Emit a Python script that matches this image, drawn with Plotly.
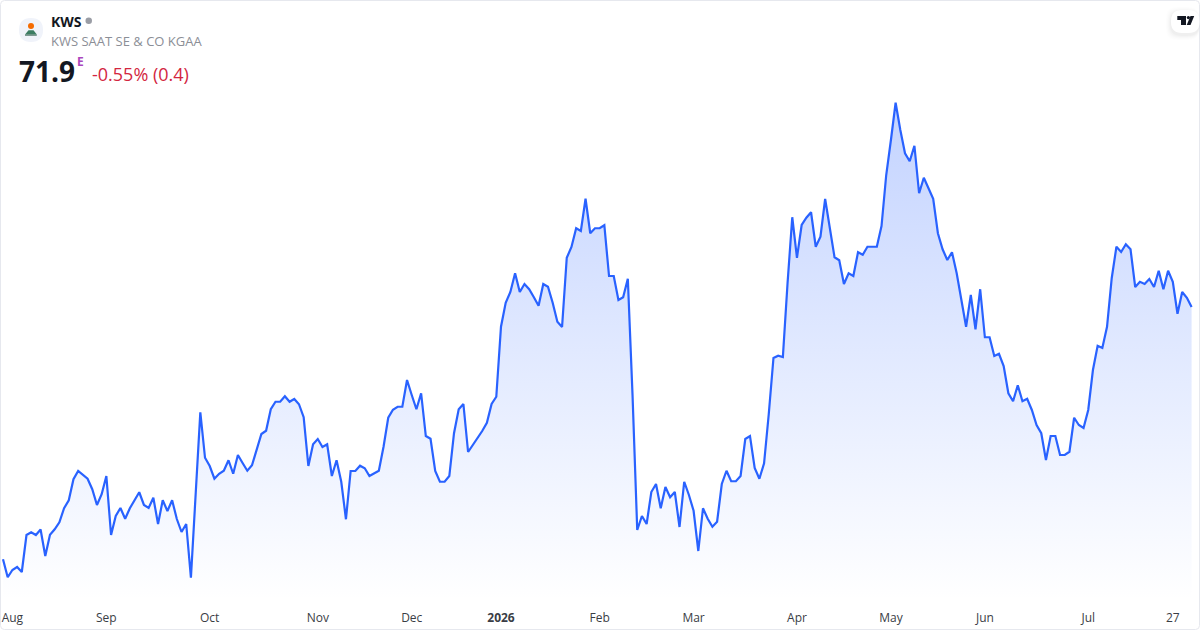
import plotly.graph_objects as go

# sesiones del último año, cierre diario
closes = [
    61.81, 61.09, 61.38, 61.50, 61.30, 62.78, 62.89, 62.78, 63.00, 61.94,
    62.79, 63.01, 63.29, 63.85, 64.17, 65.01, 65.34, 65.17, 65.03, 64.61,
    63.98, 64.41, 65.14, 62.78, 63.54, 63.86, 63.43, 63.85, 64.15, 64.49,
    63.98, 63.86, 64.27, 63.22, 64.17, 63.74, 64.17, 63.42, 62.90, 63.22,
    61.07, 64.38, 67.69, 65.87, 65.54, 65.03, 65.23, 65.35, 65.77, 65.23,
    65.98, 65.66, 65.35, 65.57, 66.18, 66.82, 66.95, 67.81, 68.11, 68.11,
    68.33, 68.11, 68.22, 68.01, 67.49, 65.54, 66.41, 66.62, 66.30, 66.41,
    65.14, 65.77, 64.91, 63.41, 65.34, 65.34, 65.55, 65.45, 65.14, 65.25,
    65.35, 66.31, 67.47, 67.79, 67.91, 67.91, 68.98, 68.38, 67.81, 68.45,
    66.74, 66.63, 65.34, 64.91, 64.91, 65.14, 66.85, 67.81, 68.02, 66.10,
    66.38, 66.62, 66.94, 67.27, 68.02, 68.31, 71.11, 72.07, 72.50, 73.25,
    72.50, 72.82, 72.61, 72.29, 71.95, 72.82, 72.71, 72.07, 71.31, 71.10,
    73.87, 74.30, 75.05, 74.94, 76.23, 74.85, 75.05, 75.05, 75.17, 73.14,
    73.14, 72.18, 72.29, 73.03, 68.38, 62.98, 63.54, 63.22, 64.50, 64.82,
    63.85, 64.70, 64.29, 64.50, 63.10, 64.91, 64.38, 63.75, 62.14, 63.85,
    63.43, 63.11, 63.31, 64.82, 65.35, 64.93, 64.93, 65.14, 66.62, 66.74,
    65.46, 65.03, 65.65, 67.62, 69.86, 69.95, 69.90, 72.86, 75.49, 73.87,
    75.18, 75.47, 75.69, 74.31, 74.71, 76.22, 75.05, 73.89, 73.77, 72.82,
    73.25, 73.14, 74.09, 73.99, 74.31, 74.31, 74.31, 75.14, 77.18, 78.58,
    80.07, 78.98, 78.05, 77.73, 78.35, 76.45, 77.07, 76.65, 76.23, 74.85,
    74.21, 73.78, 74.09, 73.25, 72.18, 71.11, 72.38, 71.01, 72.61, 70.69,
    70.69, 69.94, 70.03, 69.54, 68.45, 68.13, 68.77, 68.13, 68.23, 67.78,
    67.18, 66.85, 65.78, 66.74, 66.74, 65.98, 65.98, 66.11, 67.47, 67.18,
    67.06, 67.78, 69.38, 70.35, 70.26, 71.11, 73.05, 74.31, 74.10, 74.41,
    74.21, 72.70, 72.91, 72.82, 73.02, 72.70, 73.35, 72.61, 73.35, 72.91,
    71.63, 72.50, 72.27, 71.90,
]
sessions = list(range(len(closes)))

tick_sessions = [2, 22, 44, 67, 87, 106, 127, 147, 169, 189, 209, 231, 249]
tick_labels = ["Aug", "Sep", "Oct", "Nov", "Dec", "<b>2026</b>", "Feb", "Mar",
               "Apr", "May", "Jun", "Jul", "27"]

W, H = 1200, 630
PLOT_H = 600
FONT = "Open Sans"


def fx(x):
    return x / W


def fy(y):
    return 1 - y / PLOT_H


def round_path(x0, y0, x1, y1, r):
    # rectángulo redondeado en píxeles de la página
    return (
        f"M{fx(x0 + r)},{fy(y0)} L{fx(x1 - r)},{fy(y0)} "
        f"Q{fx(x1)},{fy(y0)} {fx(x1)},{fy(y0 + r)} L{fx(x1)},{fy(y1 - r)} "
        f"Q{fx(x1)},{fy(y1)} {fx(x1 - r)},{fy(y1)} L{fx(x0 + r)},{fy(y1)} "
        f"Q{fx(x0)},{fy(y1)} {fx(x0)},{fy(y1 - r)} L{fx(x0)},{fy(y0 + r)} "
        f"Q{fx(x0)},{fy(y0)} {fx(x0 + r)},{fy(y0)} Z"
    )


def poly_path(points):
    return "M" + " L".join(f"{fx(x)},{fy(y)}" for x, y in points) + " Z"


def paper_shape(path, fill, line_color=None, line_width=0):
    return dict(
        type="path", xref="paper", yref="paper", path=path, fillcolor=fill,
        line=dict(color=line_color or "rgba(0,0,0,0)", width=line_width),
        layer="above",
    )


def label(x, y, text, size, color):
    return dict(
        xref="paper", yref="paper", x=fx(x), y=fy(y), text=text,
        xanchor="left", yanchor="middle", showarrow=False,
        font=dict(family=FONT, size=size, color=color),
    )


fig = go.Figure()
fig.add_trace(go.Scatter(
    x=sessions, y=closes, mode="lines",
    line=dict(color="#2962FF", width=2.2),
    fill="tozeroy",
    fillgradient=dict(
        type="vertical", start=60.18, stop=80.07,
        colorscale=[[0, "rgba(41,98,255,0)"], [1, "rgba(41,98,255,0.28)"]],
    ),
    hoverinfo="skip",
))

shapes = []
# borde de la tarjeta
shapes.append(paper_shape(round_path(0.5, 0.5, 1199.5, 629.5, 4),
                          "rgba(0,0,0,0)", "#e6e8ee", 1))
# logo KWS
shapes.append(paper_shape(round_path(19, 18, 43, 42, 12), "#f0f3fa"))
shapes.append(paper_shape(round_path(28, 23, 34, 29, 3), "#f56b00"))
shapes.append(paper_shape(poly_path([(28.5, 30.2), (33.5, 30.2), (36.8, 34.6), (25, 34.6)]), "#3c7d62"))
shapes.append(paper_shape(poly_path([(25, 34.6), (36.8, 34.6), (36.8, 35.6), (25, 35.6)]), "#2f5f4c"))
# punto de estado
shapes.append(paper_shape(round_path(85.5, 17.5, 92, 24, 3.2), "#9a9da5"))
# pastilla del logo TV con sombra suave
for grow, alpha in [(5, 0.006), (4, 0.009), (3, 0.012), (2, 0.016), (1, 0.02)]:
    shapes.append(paper_shape(
        round_path(1171 - grow, 10 - grow + 2, 1199.5, 33 + grow + 2, 11), f"rgba(0,0,0,{alpha})"))
shapes.append(paper_shape(round_path(1171, 10, 1199.5, 33, 11), "#ffffff"))
shapes.append(paper_shape(poly_path([(1177.3, 16), (1186, 16), (1186, 25), (1181, 25), (1181, 20), (1177.3, 20)]), "#131722"))
shapes.append(paper_shape(round_path(1186.8, 16, 1190, 19.2, 1.6), "#131722"))
shapes.append(paper_shape(poly_path([(1190.5, 16), (1194.2, 16), (1190.5, 25), (1186.7, 25)]), "#131722"))

annotations = [
    label(49, 21, "<b>KWS</b>", 14, "#131722"),
    label(49, 41, "KWS SAAT SE &amp; CO KGAA", 13, "#8b8e96"),
    label(17, 71, "<b>71.9</b>", 28, "#131722"),
    label(75, 61, "<b>E</b>", 12, "#ab47bc"),
    label(90, 74.5, "-0.55% (0.4)", 18, "#d3263f"),
]

fig.update_layout(
    width=W, height=H,
    margin=dict(l=0, r=0, t=0, b=H - PLOT_H, pad=0),
    paper_bgcolor="white", plot_bgcolor="white",
    showlegend=False,
    xaxis=dict(
        range=[-0.639, 254.79], tickmode="array",
        tickvals=tick_sessions, ticktext=tick_labels,
        showgrid=False, zeroline=False, showline=False, ticks="",
        ticklabelstandoff=9,
        tickangle=0, tickfont=dict(family=FONT, size=12, color="#3a3d45"),
    ),
    yaxis=dict(range=[60.18, 84.18], visible=False),
    shapes=shapes,
    annotations=annotations,
)

fig.write_html(
    "out.html",
    config={"displayModeBar": False},
    post_script="document.body.style.margin='0';",
)
